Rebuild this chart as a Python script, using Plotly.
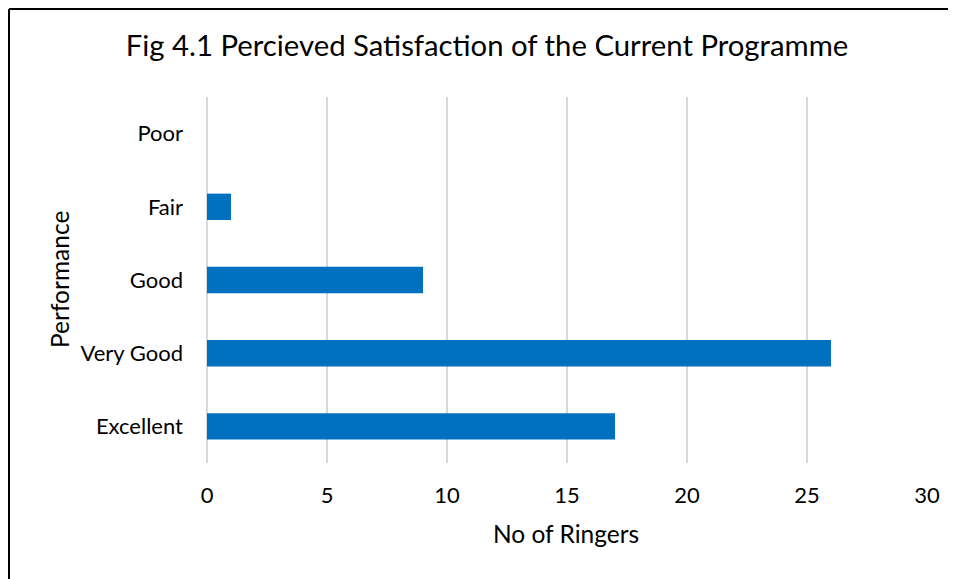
import plotly.graph_objects as go

categories = ["Excellent", "Very Good", "Good", "Fair", "Poor"]
values = [17, 26, 9, 1, 0]
x_ticks = [0, 5, 10, 15, 20, 25, 30]

FONT = "Lato"
OFF = 8  # page body margin offset
W, H = 956 - OFF, 579 - OFF
L, R, T, B = 207 - OFF, 29, 97 - OFF, 116
pw, ph = W - L - R, H - T - B

def px_x(page_px):
    return (page_px - OFF - L) / pw

def px_y(page_py):
    return (H - B - (page_py - OFF)) / ph

fig = go.Figure(go.Bar(
    y=categories, x=values, orientation="h",
    marker=dict(color="#0070C0", line=dict(width=0)),
    width=0.36,
))

fig.update_layout(
    width=W, height=H,
    margin=dict(l=L, r=R, t=T, b=B),
    paper_bgcolor="white", plot_bgcolor="white",
    showlegend=False,
    font=dict(family=FONT, color="#000000"),
    title=dict(text="Fig 4.1 Percieved Satisfaction of the Current Programme",
               xref="container", yref="container",
               x=(487 - OFF) / W, y=1 - (46 - OFF) / H,
               xanchor="center", yanchor="middle",
               font=dict(family=FONT, size=29.3, color="#000000")),
    xaxis=dict(range=[0, 30], tickvals=x_ticks, ticktext=[str(v) for v in x_ticks],
               showgrid=True, gridcolor="#D9D9D9", gridwidth=1.5,
               zeroline=True, zerolinecolor="#D9D9D9", zerolinewidth=1.5,
               showline=False, ticks="", ticklabelstandoff=17,
               tickfont=dict(family=FONT, size=22, color="#000000")),
    yaxis=dict(categoryorder="array", categoryarray=categories,
               range=[-0.5, 4.5], showgrid=False, zeroline=False, showline=False,
               ticks="", ticklabelstandoff=23,
               tickfont=dict(family=FONT, size=22, color="#000000")),
    annotations=[
        dict(text="Performance", xref="paper", yref="paper",
             x=px_x(59), y=px_y(280), xanchor="center", yanchor="middle",
             textangle=-90, showarrow=False,
             font=dict(family=FONT, size=24.5, color="#000000")),
        dict(text="No of Ringers", xref="paper", yref="paper",
             x=px_x(566), y=px_y(533), xanchor="center", yanchor="middle",
             showarrow=False,
             font=dict(family=FONT, size=24.5, color="#000000")),
    ],
    shapes=[
        dict(type="line", xref="paper", yref="paper",
             x0=px_x(9), x1=px_x(9), y0=px_y(590), y1=px_y(9),
             line=dict(color="#000000", width=2)),
        dict(type="line", xref="paper", yref="paper",
             x0=px_x(9), x1=px_x(970), y0=px_y(9), y1=px_y(9),
             line=dict(color="#000000", width=2)),
    ],
)

fig.write_html("out.html")
